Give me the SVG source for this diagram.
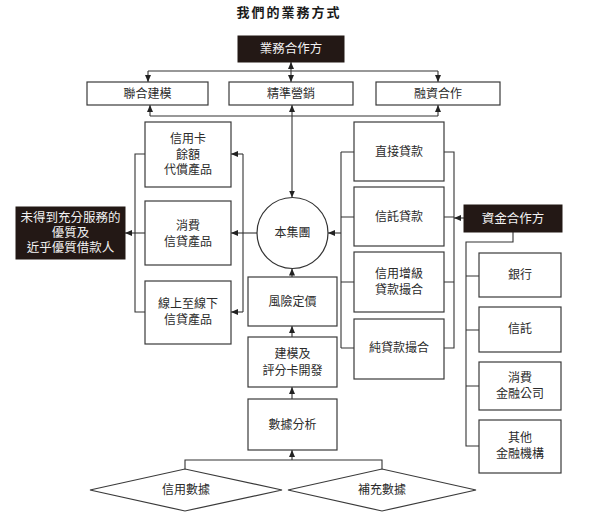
<svg xmlns="http://www.w3.org/2000/svg" width="594" height="531" viewBox="0 0 594 531">
<style>
text{font-family:"Liberation Serif","Noto Sans CJK TC",serif;font-size:12px;fill:#2b2b2b;text-anchor:middle;dominant-baseline:central}
.box{fill:#fff;stroke:#3a3a3a;stroke-width:1.2}
.dark{fill:#231815;stroke:#231815;stroke-width:1}
.dt{fill:#f2f2f2;font-size:12.5px}
.title{font-size:13px;font-weight:bold;letter-spacing:2px;fill:#1a1a1a}
.c path{fill:none;stroke:#333;stroke-width:1.1}
.a{marker-end:url(#ah)}
.aa{marker-end:url(#ah);marker-start:url(#ah)}
</style>
<defs>
<marker id="ah" markerUnits="userSpaceOnUse" markerWidth="8" markerHeight="6" refX="7" refY="3" orient="auto-start-reverse">
<path d="M0,0 L7,3 L0,6 z" fill="#222"/>
</marker>
</defs>
<rect width="594" height="531" fill="#fff"/>
<text class="title" x="289" y="12">我們的業務方式</text>

<g class="c" id="connectors">
<path class="aa" d="M291,62 V82"/>
<path d="M148,71 H438"/>
<path class="a" d="M148,71 V82"/>
<path class="a" d="M438,71 V82"/>
<path d="M150,116 H438"/>
<path class="a" d="M150,116 V105"/>
<path class="a" d="M438,116 V105"/>
<path class="aa" d="M292,105 V197.5"/>
<path class="a" d="M257,233 H231"/>
<path d="M243,154 V312"/>
<path class="a" d="M243,154 H231"/>
<path class="a" d="M243,312 H231"/>
<path d="M145,154 H135 V312 H145"/>
<path class="a" d="M145,233 H125"/>
<path d="M341,152 V348"/>
<path d="M341,152 H354 M341,217 H354 M341,282 H354 M341,348 H354"/>
<path class="a" d="M341,233 H328"/>
<path d="M444,152 H454 V348 H444 M444,217 H454 M444,282 H454"/>
<path class="a" d="M464,218 H454"/>
<path d="M513,232 V242 H466 V446 H479 M466,276 H479 M466,330 H479 M466,386 H479"/>
<path class="a" d="M292,277 V268.5"/>
<path class="a" d="M292,337 V326"/>
<path class="a" d="M292,399 V387"/>
<path class="a" d="M292,460 V450"/>
<path d="M185,469 V460 H382 V469"/>
</g>

<g id="partner"><rect class="dark" x="238" y="36" width="106" height="26"/><text class="dt" x="291" y="49">業務合作方</text></g>
<g id="joint-modeling"><rect class="box" x="87" y="82" width="121" height="23"/><text x="147.5" y="93.5">聯合建模</text></g>
<g id="precision-marketing"><rect class="box" x="229" y="82" width="124" height="23"/><text x="291" y="93.5">精準營銷</text></g>
<g id="financing"><rect class="box" x="376" y="82" width="124" height="23"/><text x="438" y="93.5">融資合作</text></g>

<g id="credit-card"><rect class="box" x="145" y="122" width="86" height="65"/><text x="188" y="139">信用卡</text><text x="188" y="154.5">餘額</text><text x="188" y="170">代償產品</text></g>
<g id="consumer-credit"><rect class="box" x="145" y="201" width="86" height="64"/><text x="188" y="226">消費</text><text x="188" y="241.5">信貸產品</text></g>
<g id="online-offline"><rect class="box" x="145" y="281" width="86" height="63"/><text x="188" y="304">線上至線下</text><text x="188" y="320">信貸產品</text></g>

<g id="borrowers"><rect class="dark" x="16" y="207" width="109" height="52"/><text class="dt" x="70.5" y="217.5">未得到充分服務的</text><text class="dt" x="70.5" y="233">優質及</text><text class="dt" x="70.5" y="248">近乎優質借款人</text></g>

<g id="group"><circle cx="292.5" cy="233" r="35.5" fill="#fff" stroke="#333" stroke-width="1.2"/><text x="292.5" y="233">本集團</text></g>

<g id="direct-loan"><rect class="box" x="354" y="122" width="90" height="59"/><text x="399" y="152">直接貸款</text></g>
<g id="trust-loan"><rect class="box" x="354" y="187" width="90" height="59"/><text x="399" y="217">信託貸款</text></g>
<g id="credit-enhanced"><rect class="box" x="354" y="252" width="90" height="60"/><text x="399" y="274">信用增級</text><text x="399" y="289.5">貸款撮合</text></g>
<g id="pure-loan"><rect class="box" x="354" y="319" width="90" height="60"/><text x="399" y="348">純貸款撮合</text></g>

<g id="funding-partner"><rect class="dark" x="464" y="205" width="98" height="27"/><text class="dt" x="513" y="218.5">資金合作方</text></g>
<g id="bank"><rect class="box" x="479" y="253" width="82" height="44"/><text x="520" y="275">銀行</text></g>
<g id="trust"><rect class="box" x="479" y="307" width="82" height="45"/><text x="520" y="329">信託</text></g>
<g id="consumer-finance"><rect class="box" x="479" y="362" width="82" height="48"/><text x="520" y="378">消費</text><text x="520" y="393.5">金融公司</text></g>
<g id="other-fi"><rect class="box" x="479" y="420" width="82" height="53"/><text x="520" y="438">其他</text><text x="520" y="454">金融機構</text></g>

<g id="risk-pricing"><rect class="box" x="248" y="277" width="89" height="49"/><text x="292.5" y="301.5">風險定價</text></g>
<g id="modeling"><rect class="box" x="248" y="337" width="89" height="50"/><text x="292.5" y="354">建模及</text><text x="292.5" y="371">評分卡開發</text></g>
<g id="data-analysis"><rect class="box" x="248" y="399" width="89" height="51"/><text x="292.5" y="424.5">數據分析</text></g>

<g id="credit-data"><polygon class="box" points="90,490 185,469 282,490 185,511"/><text x="186" y="490">信用數據</text></g>
<g id="supp-data"><polygon class="box" points="288,490 382,469 476,490 382,511"/><text x="382" y="490">補充數據</text></g>
</svg>
